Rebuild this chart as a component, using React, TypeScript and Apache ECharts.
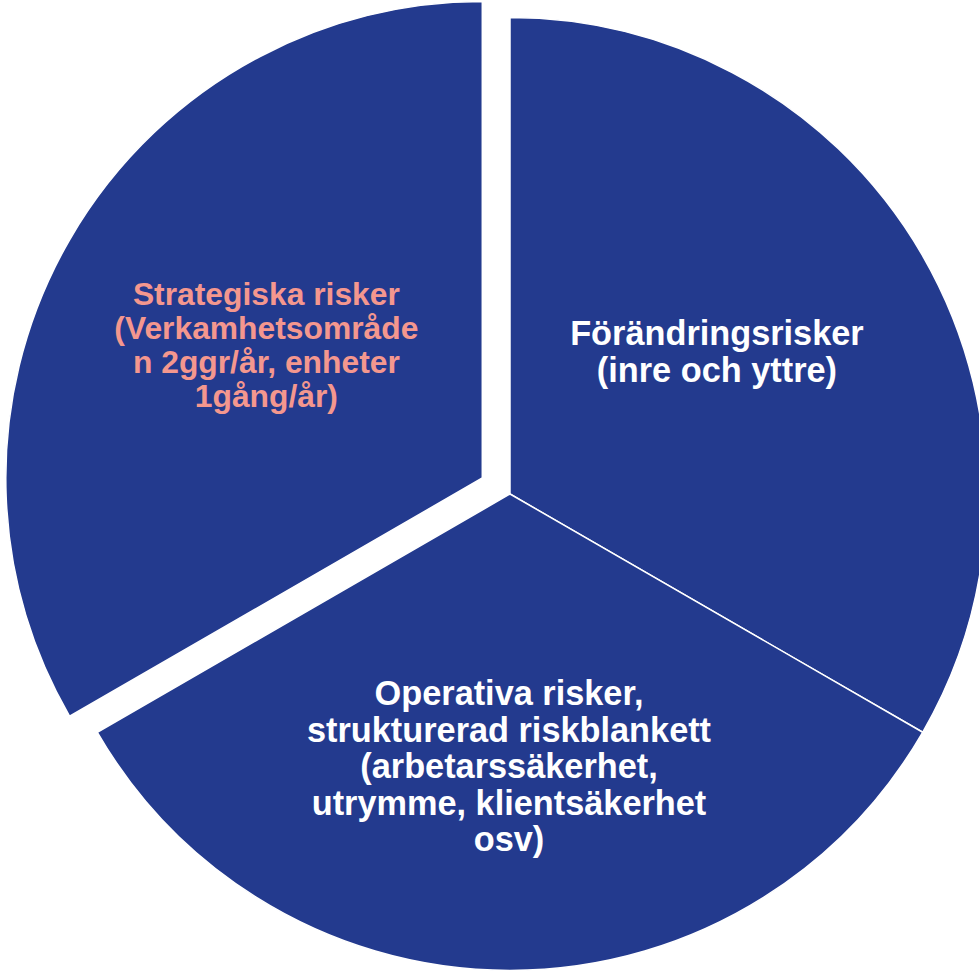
import React, { useEffect, useRef } from "react";
import * as echarts from "echarts";

const categories = [
  "Förändringsrisker\n(inre och yttre)",
  "Operativa risker,\nstrukturerad riskblankett\n(arbetarssäkerhet,\nutrymme, klientsäkerhet\nosv)",
  "Strategiska risker\n(Verkamhetsområde\nn 2ggr/år, enheter\n1gång/år)",
];
const shares = [1, 1, 1];
const selectedFlags = [false, false, true];
const labelColors = ["#ffffff", "#ffffff", "#f4978e"];

export default function App() {
  const ref = useRef<HTMLDivElement>(null);
  useEffect(() => {
    if (!ref.current) return;
    const chart = echarts.init(ref.current, null, { renderer: "svg" });
    const labelShift: Record<number, { dx: number; dy: number }> = {
      0: { dx: -2, dy: -22 },
      1: { dx: -1, dy: 31 },
      2: { dx: -7, dy: -12 },
    };
    chart.setOption({
      animation: false,
      backgroundColor: "#ffffff",
      series: [
        {
          type: "pie",
          center: [510, 494],
          radius: [0, 476.5],
          startAngle: 90,
          clockwise: true,
          selectedMode: "single",
          selectedOffset: 32,
          avoidLabelOverlap: false,
          emphasis: { disabled: true },
          itemStyle: { color: "#233a8e", borderColor: "#ffffff", borderWidth: 1.5 },
          label: {
            show: true,
            position: "inside",
            fontFamily: "'Liberation Sans', Arial, sans-serif",
            fontWeight: "bold",
            fontSize: 34.3,
            lineHeight: 36.5,
            align: "center",
          },
          labelLine: { show: false },
          labelLayout: (p: any) => labelShift[p.dataIndex] || {},
          data: categories.map((name, i) => ({
            name,
            value: shares[i],
            selected: selectedFlags[i],
            label:
              i === 2
                ? { color: labelColors[i], fontSize: 31.8, lineHeight: 34 }
                : { color: labelColors[i] },
          })),
        },
      ],
    });
    return () => chart.dispose();
  }, []);
  return (
    <div
      ref={ref}
      style={{ position: "fixed", left: 0, top: 0, width: 979, height: 971 }}
    />
  );
}
